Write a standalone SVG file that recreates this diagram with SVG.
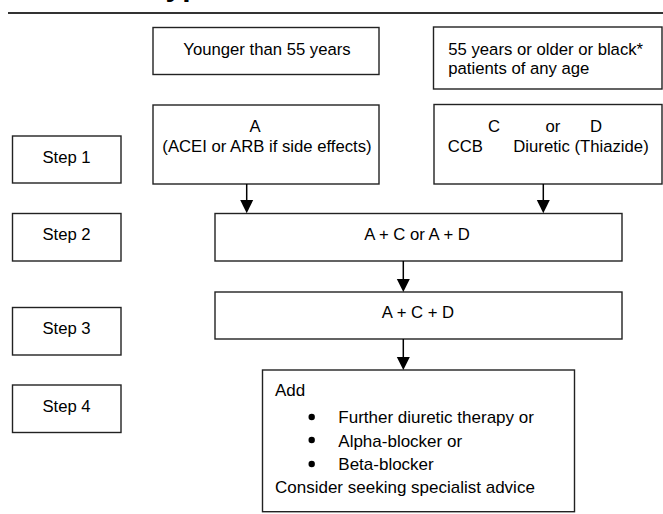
<svg xmlns="http://www.w3.org/2000/svg" width="663" height="514" viewBox="0 0 663 514">
<style>
.box{fill:#fff;stroke:#222;stroke-width:1.4}
.t{font-family:"Liberation Sans",Arial,sans-serif;font-size:16.7px;fill:#000}
.b{font-size:17px}
.m{text-anchor:middle}
.c{stroke:#000;stroke-width:1.5;fill:none}
.h{fill:#000;stroke:none}
</style>
<rect width="663" height="514" fill="#fff"/>
<text x="143.8" y="-4.2" style="font-family:'Liberation Sans',Arial,sans-serif;font-size:30px;font-weight:bold">Hypertension</text>
<line x1="8" y1="13" x2="663" y2="13" stroke="#333" stroke-width="2"/>

<g id="young">
<rect class="box" x="153" y="27.5" width="226" height="47"/>
<text class="t m" x="267" y="54.5">Younger than 55 years</text>
</g>
<g id="older">
<rect class="box" x="433.5" y="27" width="228.5" height="62"/>
<text class="t" x="448.3" y="55">55 years or older or black*</text>
<text class="t" x="448.3" y="74">patients of any age</text>
</g>
<g id="stepA">
<rect class="box" x="153" y="105" width="226" height="79"/>
<text class="t m" x="255" y="131.7">A</text>
<text class="t m" x="267" y="152.3">(ACEI or ARB if side effects)</text>
</g>
<g id="stepCD">
<rect class="box" x="434" y="104.5" width="228" height="79.5"/>
<text class="t m" x="494" y="131.7">C</text>
<text class="t m" x="553" y="131.7">or</text>
<text class="t m" x="596" y="131.7">D</text>
<text class="t" x="447.7" y="152.3">CCB</text>
<text class="t" x="513.3" y="152.3">Diuretic (Thiazide)</text>
</g>
<g id="step1">
<rect class="box" x="12.5" y="136" width="108.5" height="47"/>
<text class="t m" x="66.5" y="163">Step 1</text>
</g>
<g id="step2">
<rect class="box" x="12.5" y="213.5" width="108.5" height="47.5"/>
<text class="t m" x="66.5" y="240">Step 2</text>
</g>
<g id="step3">
<rect class="box" x="12.5" y="307.5" width="108.5" height="47.5"/>
<text class="t m" x="66.5" y="334">Step 3</text>
</g>
<g id="step4">
<rect class="box" x="12.5" y="385" width="108.5" height="47.5"/>
<text class="t m" x="66.5" y="411.7">Step 4</text>
</g>
<g id="combo2">
<rect class="box" x="215" y="213.5" width="407" height="47.5"/>
<text class="t m" x="417" y="240">A + C or A + D</text>
</g>
<g id="combo3">
<rect class="box" x="215" y="292" width="407" height="47"/>
<text class="t m" x="418" y="318">A + C + D</text>
</g>
<g id="add">
<rect class="box" x="262.5" y="370" width="312" height="141.7"/>
<text class="t b" x="275" y="395.7">Add</text>
<circle class="h" cx="311.7" cy="417" r="3.2"/>
<circle class="h" cx="311.7" cy="440" r="3.2"/>
<circle class="h" cx="311.7" cy="464" r="3.2"/>
<text class="t b" x="338.3" y="423.3">Further diuretic therapy or</text>
<text class="t b" x="338.3" y="446.5">Alpha-blocker or</text>
<text class="t b" x="338.3" y="470">Beta-blocker</text>
<text class="t b" x="275" y="492.7">Consider seeking specialist advice</text>
</g>

<g id="connectors">
<line class="c" x1="246.7" y1="184" x2="246.7" y2="201"/>
<polygon class="h" points="240.2,200 253.2,200 246.7,213.3"/>
<line class="c" x1="543.3" y1="184" x2="543.3" y2="201"/>
<polygon class="h" points="536.8,200 549.8,200 543.3,213.3"/>
<line class="c" x1="403.3" y1="261" x2="403.3" y2="280"/>
<polygon class="h" points="396.8,279 409.8,279 403.3,292"/>
<line class="c" x1="403.3" y1="339" x2="403.3" y2="358"/>
<polygon class="h" points="396.8,357 409.8,357 403.3,370"/>
</g>
</svg>
